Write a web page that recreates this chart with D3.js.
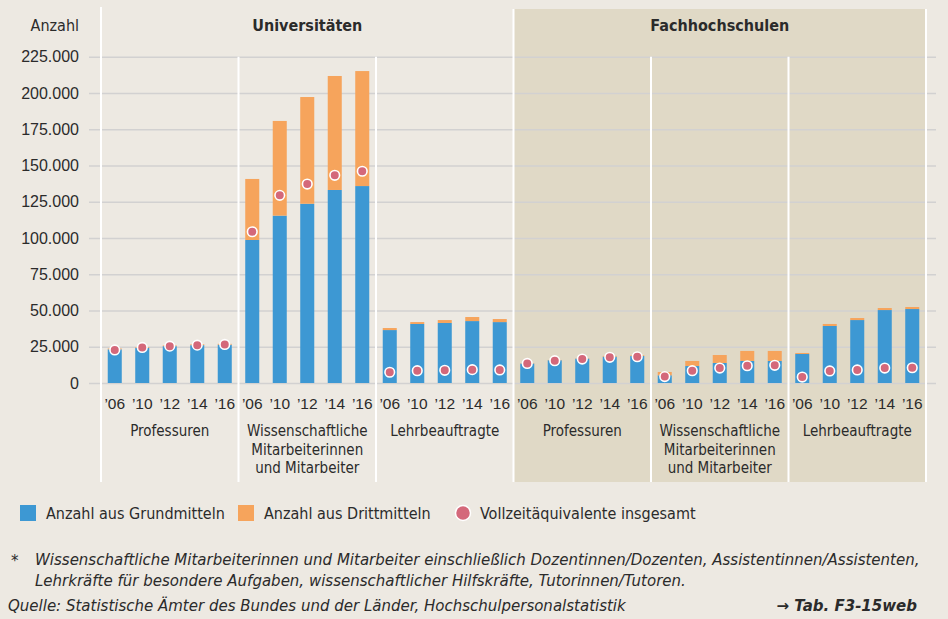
<!DOCTYPE html>
<html>
<head>
<meta charset="utf-8">
<script src="https://cdn.jsdelivr.net/npm/d3@7"></script>
<style>
  html, body { margin: 0; padding: 0; background: #ede9e2; }
  svg { display: block; font-family: "DejaVu Sans Condensed", "DejaVu Sans", sans-serif; font-stretch: condensed; }
  text { fill: #2b2b2b; }
  .foot { font-family: "DejaVu Sans", sans-serif; font-stretch: normal; }
</style>
</head>
<body>
<svg id="chart" width="948" height="619"></svg>
<script>
// data
const years = ["’06", "’10", "’12", "’14", "’16"];
const sections = ["Universitäten", "Fachhochschulen"];
const groupLabels = [
  ["Professuren"],
  ["Wissenschaftliche", "Mitarbeiterinnen", "und Mitarbeiter"],
  ["Lehrbeauftragte"]
];
const groupIds = ["uniProf", "uniWiss", "uniLehr", "fhProf", "fhWiss", "fhLehr"];

const grundmittel = {
  uniProf: [23200, 24300, 25400, 26100, 26400],
  uniWiss: [98600, 115400, 123600, 133100, 135800],
  uniLehr: [36500, 40700, 41400, 42700, 42000],
  fhProf: [13400, 15700, 16800, 18200, 18600],
  fhWiss: [5300, 11700, 13800, 15200, 15200],
  fhLehr: [20000, 39300, 43400, 50300, 51000]
};
const drittmittel = {
  uniProf: [600, 500, 500, 600, 600],
  uniWiss: [42100, 65300, 73600, 78600, 79300],
  uniLehr: [1400, 1300, 2000, 2800, 2100],
  fhProf: [200, 200, 200, 500, 500],
  fhWiss: [2300, 3500, 5500, 6900, 6900],
  fhLehr: [700, 1400, 1400, 1400, 1400]
};
const vollzeit = {
  uniProf: [22800, 24500, 25400, 26100, 26600],
  uniWiss: [104300, 129400, 137200, 143200, 146000],
  uniLehr: [7400, 8500, 8750, 9200, 9000],
  fhProf: [13500, 15400, 16500, 17700, 18100],
  fhWiss: [4400, 8500, 10300, 11900, 12200],
  fhLehr: [4100, 8300, 9000, 10300, 10500]
};
const yTicks = [0, 25000, 50000, 75000, 100000, 125000, 150000, 175000, 200000, 225000];

const colors = { grund: "#3d98d3", dritt: "#f6a45c", dot: "#d4687a", shade: "#e0d9c6", grid: "#d2d1d1" };

const svg = d3.select("#chart");
const de = d3.formatLocale({ decimal: ",", thousands: ".", grouping: [3], currency: ["", " €"] });
const fmt = de.format(",");

// scales
const x0 = d3.scaleBand().domain(groupIds).range([101, 926]);
const x1 = d3.scaleBand().domain(years).range([0, x0.bandwidth()])
  .paddingInner(0.49).paddingOuter(0.245);
const y = d3.scaleLinear().domain([0, 225000]).range([383, 56.7]);

const panelTop = 9, panelBottom = 482;

// shaded Fachhochschulen area
svg.append("rect")
  .attr("x", x0("fhProf")).attr("y", panelTop)
  .attr("width", x0("fhLehr") + x0.bandwidth() - x0("fhProf"))
  .attr("height", panelBottom - panelTop)
  .attr("fill", colors.shade);

// y axis with gridlines
const yAxis = svg.append("g")
  .attr("transform", "translate(89,0)")
  .call(d3.axisLeft(y).tickValues(yTicks).tickFormat(fmt)
    .tickSizeInner(-(936 - 89)).tickSizeOuter(0).tickPadding(10));
yAxis.select(".domain").remove();
yAxis.selectAll(".tick line").attr("stroke", colors.grid).attr("stroke-width", 1.4);
yAxis.selectAll(".tick text")
  .style("font-size", "16px").attr("fill", "#2b2b2b").attr("font-family", null);

// white separators
const seps = [
  { x: x0("uniProf"), y1: 7 },
  { x: x0("uniWiss"), y1: y(225000) },
  { x: x0("uniLehr"), y1: y(225000) },
  { x: x0("fhProf"), y1: panelTop },
  { x: x0("fhWiss"), y1: y(225000) },
  { x: x0("fhLehr"), y1: y(225000) },
  { x: x0("fhLehr") + x0.bandwidth(), y1: panelTop }
];
svg.append("g").selectAll("line").data(seps).join("line")
  .attr("x1", d => d.x).attr("x2", d => d.x)
  .attr("y1", d => d.y1).attr("y2", panelBottom)
  .attr("stroke", "#ffffff").attr("stroke-width", 2);

// bars + dots
groupIds.forEach((gid, gi) => {
  const g = svg.append("g").attr("transform", "translate(" + x0(gid) + ",0)");
  const rows = years.map((yr, i) => ({
    yr: yr,
    grund: grundmittel[gid][i],
    dritt: drittmittel[gid][i],
    vza: vollzeit[gid][i]
  }));

  g.selectAll("rect.grund").data(rows).join("rect")
    .attr("class", "grund")
    .attr("x", d => x1(d.yr)).attr("width", x1.bandwidth())
    .attr("y", d => y(d.grund)).attr("height", d => y(0) - y(d.grund))
    .attr("fill", colors.grund);

  g.selectAll("rect.dritt").data(rows).join("rect")
    .attr("class", "dritt")
    .attr("x", d => x1(d.yr)).attr("width", x1.bandwidth())
    .attr("y", d => y(d.grund + d.dritt)).attr("height", d => y(d.grund) - y(d.grund + d.dritt))
    .attr("fill", colors.dritt);

  g.selectAll("circle").data(rows).join("circle")
    .attr("cx", d => x1(d.yr) + x1.bandwidth() / 2)
    .attr("cy", d => y(d.vza))
    .attr("r", 4.8)
    .attr("fill", colors.dot)
    .attr("stroke", "#fff").attr("stroke-width", 1.6);

  // year labels
  const xa = g.append("g").attr("transform", "translate(0," + y(0) + ")")
    .call(d3.axisBottom(x1).tickSize(0).tickPadding(14.5));
  xa.select(".domain").remove();
  xa.selectAll(".tick text").style("font-size", "15.5px").attr("fill", "#2b2b2b").attr("font-family", null);

  // group label
  const lines = groupLabels[gi % 3];
  const t = g.append("text")
    .attr("text-anchor", "middle")
    .style("font-size", "15px");
  t.selectAll("tspan").data(lines).join("tspan")
    .attr("x", x0.bandwidth() / 2)
    .attr("y", (d, i) => 436 + i * 18.5)
    .text(d => d);
});

// section titles
svg.append("g").selectAll("text").data(sections).join("text")
  .attr("x", (d, i) => i === 0
    ? (x0("uniProf") + x0("uniLehr") + x0.bandwidth()) / 2
    : (x0("fhProf") + x0("fhLehr") + x0.bandwidth()) / 2)
  .attr("y", 31)
  .attr("text-anchor", "middle")
  .style("font-size", "16px").style("font-weight", "bold")
  .text(d => d);

svg.append("text").attr("x", 79).attr("y", 31).attr("text-anchor", "end")
  .style("font-size", "16px").text("Anzahl");

// legend
const legend = svg.append("g").attr("transform", "translate(0,513)");
legend.append("rect").attr("x", 20).attr("y", -8).attr("width", 16).attr("height", 16).attr("fill", colors.grund);
legend.append("text").attr("x", 46).attr("y", 6).style("font-size", "16px").text("Anzahl aus Grundmitteln");
legend.append("rect").attr("x", 238).attr("y", -8).attr("width", 16).attr("height", 16).attr("fill", colors.dritt);
legend.append("text").attr("x", 264).attr("y", 6).style("font-size", "16px").text("Anzahl aus Drittmitteln");
legend.append("circle").attr("cx", 463).attr("cy", 0).attr("r", 7.5)
  .attr("fill", colors.dot).attr("stroke", "#fff").attr("stroke-width", 1.5);
legend.append("text").attr("x", 480).attr("y", 6).style("font-size", "16px").text("Vollzeitäquivalente insgesamt");

// footnote
const foot = svg.append("g").attr("class", "foot").style("font-size", "15px").style("font-style", "italic");
foot.append("text").attr("x", 11).attr("y", 566).text("*");
foot.append("text").attr("x", 35).attr("y", 565)
  .text("Wissenschaftliche Mitarbeiterinnen und Mitarbeiter einschließlich Dozentinnen/Dozenten, Assistentinnen/Assistenten,");
foot.append("text").attr("x", 35).attr("y", 586)
  .text("Lehrkräfte für besondere Aufgaben, wissenschaftlicher Hilfskräfte, Tutorinnen/Tutoren.");
foot.append("text").attr("x", 8).attr("y", 611)
  .text("Quelle: Statistische Ämter des Bundes und der Länder, Hochschulpersonalstatistik");
foot.append("text").attr("x", 917).attr("y", 611).attr("text-anchor", "end")
  .style("font-weight", "bold").text("→ Tab. F3-15web");
</script>
</body>
</html>
